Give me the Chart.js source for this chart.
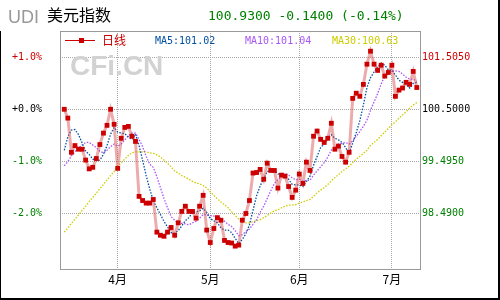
<!DOCTYPE html>
<html><head><meta charset="utf-8">
<script src="https://cdn.jsdelivr.net/npm/chart.js@4/dist/chart.umd.min.js"></script>
<style>html,body{margin:0;padding:0;background:#fff}#wrap{position:relative;width:500px;height:300px}</style>
</head><body><div id="wrap"><canvas id="c"></canvas></div>
<script>
// ---- data ----
const categories = [
'3月','3月','3月','3月','3月','3月','3月','3月','3月','3月','3月','3月','3月','3月','3月',
'4月','4月','4月','4月','4月','4月','4月','4月','4月','4月','4月','4月','4月','4月','4月','4月','4月','4月','4月','4月','4月','4月','4月','4月','4月','4月',
'5月','5月','5月','5月','5月','5月','5月','5月','5月','5月','5月','5月','5月','5月','5月','5月','5月','5月','5月','5月','5月','5月','5月','5月','5月',
'6月','6月','6月','6月','6月','6月','6月','6月','6月','6月','6月','6月','6月','6月','6月','6月','6月','6月','6月','6月','6月','6月','6月','6月','6月','6月',
'7月','7月','7月','7月','7月','7月','7月','7月'];
const closePrices = [
100.50,100.33,99.67,99.80,99.73,99.73,99.52,99.35,99.38,99.55,
99.82,100.04,100.19,100.50,100.21,99.36,99.94,100.15,100.17,99.98,
99.88,98.82,98.74,98.69,98.69,98.76,98.13,98.07,98.05,98.13,
98.22,98.07,98.31,98.53,98.63,98.53,98.53,98.40,98.63,98.84,
98.17,97.93,98.20,98.41,98.36,97.97,97.93,97.92,97.86,97.88,
98.36,98.49,98.74,99.27,99.28,99.34,99.15,99.46,99.32,99.32,
98.98,99.23,99.21,99.01,98.80,98.94,99.25,99.07,99.48,99.32,
99.98,100.08,99.92,99.86,99.94,100.23,99.73,99.79,99.59,99.48,
99.67,100.71,100.81,100.75,100.98,101.37,101.62,101.37,101.25,101.35,
101.14,101.21,101.35,100.75,100.87,100.91,101.02,100.98,101.23,100.92];
const ma5 = [
99.71,99.97,100.10,100.11,100.01,99.85,99.69,99.63,99.54,99.51,
99.52,99.63,99.80,100.02,100.15,100.06,100.04,100.03,99.97,99.92,
100.02,99.80,99.52,99.22,98.96,98.74,98.60,98.47,98.34,98.23,
98.12,98.11,98.16,98.25,98.35,98.41,98.51,98.52,98.54,98.59,
98.51,98.39,98.35,98.31,98.21,98.17,98.17,98.12,98.01,97.91,
97.99,98.10,98.27,98.55,98.83,99.02,99.16,99.30,99.31,99.32,
99.25,99.26,99.21,99.15,99.05,99.04,99.04,99.01,99.11,99.21,
99.42,99.59,99.76,99.83,99.96,100.01,99.94,99.91,99.86,99.76,
99.65,99.85,100.05,100.28,100.58,100.92,101.11,101.22,101.32,101.39,
101.35,101.26,101.26,101.16,101.06,101.02,100.98,100.91,101.00,101.02];
const ma10 = [
99.41,99.49,99.60,99.68,99.75,99.81,99.86,99.86,99.81,99.76,
99.69,99.66,99.71,99.78,99.83,99.79,99.83,99.91,99.99,100.04,
100.04,99.92,99.78,99.59,99.44,99.38,99.20,98.99,98.78,98.60,
98.43,98.36,98.31,98.30,98.29,98.27,98.31,98.34,98.40,98.47,
98.46,98.45,98.44,98.43,98.40,98.34,98.28,98.24,98.16,98.06,
98.08,98.14,98.19,98.28,98.37,98.51,98.63,98.78,98.93,99.07,
99.14,99.21,99.26,99.23,99.18,99.14,99.15,99.11,99.13,99.13,
99.23,99.31,99.39,99.47,99.58,99.71,99.76,99.83,99.84,99.86,
99.83,99.89,99.98,100.07,100.17,100.29,100.48,100.64,100.80,100.99,
101.14,101.19,101.24,101.24,101.23,101.18,101.12,101.08,101.08,101.04];
const ma30 = [
98.13,98.21,98.30,98.38,98.46,98.55,98.63,98.72,98.80,98.88,
98.97,99.05,99.14,99.22,99.30,99.40,99.47,99.54,99.61,99.66,
99.68,99.68,99.68,99.68,99.66,99.65,99.62,99.58,99.52,99.46,
99.39,99.31,99.27,99.22,99.19,99.15,99.11,99.08,99.06,99.03,
98.98,98.91,98.84,98.77,98.71,98.66,98.60,98.52,98.45,98.38,
98.33,98.31,98.31,98.33,98.35,98.37,98.41,98.45,98.50,98.54,
98.56,98.60,98.63,98.65,98.65,98.66,98.69,98.71,98.74,98.76,
98.82,98.89,98.94,98.99,99.05,99.12,99.18,99.24,99.30,99.35,
99.40,99.47,99.54,99.59,99.65,99.71,99.80,99.86,99.92,99.99,
100.06,100.13,100.20,100.26,100.33,100.39,100.45,100.52,100.58,100.63];
const basePrice = 100.5;
const priceTicks = [98.49, 99.495, 100.5, 101.505];
const pctTicks = [-2, -1, 0, 1];
const headerCode = 'UDI';
const headerName = '美元指数';
const headerQuote = '100.9300 -0.1400 (-0.14%)';
const seriesNames = ['日线', 'MA5', 'MA10', 'MA30'];
const watermark = 'CFi.CN';

// ---- helpers ----
const RED = '#cc0000', GREEN = '#008000', BLACK = '#000000';
const C5 = '#0050a0', C10 = '#a855f7', C30 = '#cccc00';
const monthStarts = categories.map((c,i)=> (i>0 && c!==categories[i-1]) ? i : -1).filter(i=>i>=0);
const toXY = arr => arr.map((v,i)=>({x:i, y:v}));
const signColor = d => d > 1e-9 ? RED : (d < -1e-9 ? GREEN : BLACK);
const MONO = '"DejaVu Sans Mono", monospace';
const CJK = '"Noto Sans CJK SC", sans-serif';

const decor = {
  id: 'decor',
  beforeDatasetsDraw(chart) {
    const ctx = chart.ctx;
    ctx.save();
    ctx.fillStyle = '#d2d2d2';
    ctx.font = 'bold 28px "Liberation Sans", Arial, sans-serif';
    ctx.textBaseline = 'alphabetic';
    ctx.fillText(watermark, 70, 75);
    ctx.restore();
  },
  afterDraw(chart) {
    const ctx = chart.ctx;
    const a = chart.chartArea;
    ctx.save();
    ctx.strokeStyle = '#999999';
    ctx.lineWidth = 1;
    ctx.strokeRect(Math.round(a.left)+0.5, Math.round(a.top)+0.5, Math.round(a.right-a.left), Math.round(a.bottom-a.top));
    ctx.textBaseline = 'alphabetic';
    ctx.fillStyle = '#999999';
    ctx.font = '18px "Liberation Sans", Arial, sans-serif';
    ctx.fillText(headerCode, 8, 23);
    ctx.fillStyle = '#000';
    ctx.font = '16px ' + CJK;
    ctx.fillText(headerName, 47, 21);
    ctx.fillStyle = GREEN;
    ctx.font = '13px ' + MONO;
    ctx.fillText(headerQuote, 208, 19.5);
    ctx.strokeStyle = RED;
    ctx.beginPath(); ctx.moveTo(65, 40.5); ctx.lineTo(95, 40.5); ctx.stroke();
    ctx.fillStyle = RED;
    ctx.fillRect(79, 38, 5, 5);
    ctx.font = '12px ' + CJK;
    ctx.fillText(seriesNames[0], 102, 45);
    ctx.font = '10px ' + MONO;
    ctx.fillStyle = C5;  ctx.fillText(seriesNames[1] + ':' + ma5[ma5.length-1].toFixed(2), 155, 43.5);
    ctx.fillStyle = C10; ctx.fillText(seriesNames[2] + ':' + ma10[ma10.length-1].toFixed(2), 245, 43.5);
    ctx.fillStyle = C30; ctx.fillText(seriesNames[3] + ':' + ma30[ma30.length-1].toFixed(2), 332, 43.5);
    ctx.fillStyle = '#000';
    ctx.fillRect(498, 0, 2, 300);
    ctx.fillRect(0, 298, 500, 2);
    ctx.fillRect(0, 31, 1, 269);
    ctx.restore();
  }
};

const maLine = (data, color, order) => ({
  data: toXY(data), borderColor: color, borderWidth: 1.3, borderDash: [1.5, 1.5],
  pointRadius: 0, fill: false, tension: 0, yAxisID: 'yR', order
});

new Chart(document.getElementById('c'), {
  type: 'line',
  data: {
    datasets: [
      { data: toXY(closePrices), borderColor: 'rgba(215,70,70,0.45)', borderWidth: 3,
        pointStyle: 'rect', pointRadius: 3.4, pointBorderWidth: 0, pointBackgroundColor: RED,
        tension: 0, fill: false, yAxisID: 'yR', order: 0 },
      maLine(ma5, C5, 1),
      maLine(ma10, C10, 2),
      maLine(ma30, C30, 3)
    ]
  },
  options: {
    responsive: true, maintainAspectRatio: false, animation: false, devicePixelRatio: 1,
    layout: { padding: { top: 31, left: 0, right: 0, bottom: 0 } },
    plugins: { legend: { display: false }, tooltip: { enabled: false }, title: { display: false } },
    scales: {
      x: {
        type: 'linear', min: -1.2, max: 99.9,
        afterBuildTicks: s => { s.ticks = monthStarts.map(v => ({ value: v })); },
        afterFit: s => { s.height = 31; },
        ticks: { autoSkip: false, maxRotation: 0, padding: 3, color: '#000',
                 font: { size: 12, family: CJK }, callback: v => categories[v] },
        grid: { color: '#a8a8a8', drawTicks: false, lineWidth: 1 },
        border: { display: false, dash: [1, 1] }
      },
      yR: {
        position: 'right', min: 97.419, max: 102.010,
        afterBuildTicks: s => { s.ticks = priceTicks.map(v => ({ value: v })); },
        afterFit: s => { s.width = 80; },
        ticks: { padding: 2, font: { size: 10, family: MONO },
                 color: c => signColor(c.tick.value - basePrice),
                 callback: v => Number(v).toFixed(4) },
        grid: { color: '#a8a8a8', drawTicks: false, lineWidth: 1 },
        border: { display: false, dash: [1, 1] }
      },
      yL: {
        position: 'left', min: -3.066, max: 1.503,
        afterBuildTicks: s => { s.ticks = pctTicks.map(v => ({ value: v })); },
        afterFit: s => { s.width = 60; },
        ticks: { padding: 18, font: { size: 10, family: MONO },
                 color: c => signColor(c.tick.value),
                 callback: v => (v >= 0 ? '+' : '') + Number(v).toFixed(1) + '%' },
        grid: { display: false, drawTicks: false },
        border: { display: false }
      }
    }
  },
  plugins: [decor]
});
</script></body></html>
